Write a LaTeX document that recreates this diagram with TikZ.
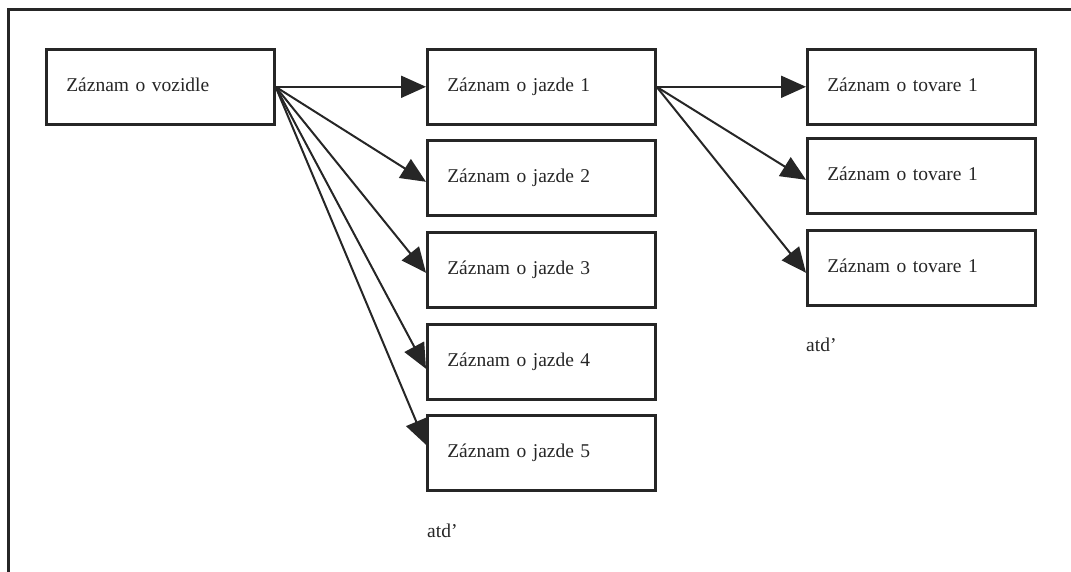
\documentclass[tikz,border=0pt]{standalone}
\usepackage{fontspec}
\setmainfont{Liberation Serif}
\usetikzlibrary{arrows.meta}
\begin{document}
\begin{tikzpicture}[x=1pt,y=-1pt,
  rec/.style={draw=black!85, line width=2.6pt, minimum width=228pt, minimum height=75pt,
    inner xsep=20pt, text width=188pt, align=left, anchor=north west,
    text height=13pt, text depth=4pt,
    font=\fontsize{19.5}{22}\selectfont, text=black!85},
  conn/.style={line width=2pt, draw=black!85, -{Triangle[length=25pt,width=22pt]}},
  frame/.style={line width=3pt, draw=black!85},
  lbl/.style={font=\fontsize{19.5}{22}\selectfont, text=black!85, anchor=west, inner sep=0pt}]
\useasboundingbox (0,0) rectangle (1071,572);
\coordinate (fTR) at (1071,10);
\coordinate (fTL) at (8.5,10);
\coordinate (fBL) at (8.5,572);
\draw[frame] (fTR) -- (fTL) -- (fBL);

\node[rec] (v) at (45,48) {Záznam o vozidle};

\node[rec] (j1) at (426,48) {Záznam o jazde 1};
\node[rec] (j2) at (426,139) {Záznam o jazde 2};
\node[rec] (j3) at (426,231) {Záznam o jazde 3};
\node[rec] (j4) at (426,323) {Záznam o jazde 4};
\node[rec] (j5) at (426,414) {Záznam o jazde 5};

\node[rec] (t1) at (806,48) {Záznam o tovare 1};
\node[rec] (t2) at (806,137) {Záznam o tovare 1};
\node[rec] (t3) at (806,229) {Záznam o tovare 1};

\node[lbl] (a1) at (427,531) {atd’};
\node[lbl] (a2) at (806,345) {atd’};

\draw[conn] (v.east) -- (j1.west);
\draw[conn] (v.east) -- ([yshift=-4pt]j2.west);
\draw[conn] (v.east) -- ([yshift=-3pt]j3.west);
\draw[conn] (v.east) -- ([yshift=-7pt]j4.west);
\draw[conn] (v.east) -- ([yshift=8pt]j5.west);

\draw[conn] (j1.east) -- (t1.west);
\draw[conn] (j1.east) -- ([yshift=-4pt]t2.west);
\draw[conn] (j1.east) -- ([yshift=-5pt]t3.west);
\end{tikzpicture}
\end{document}
